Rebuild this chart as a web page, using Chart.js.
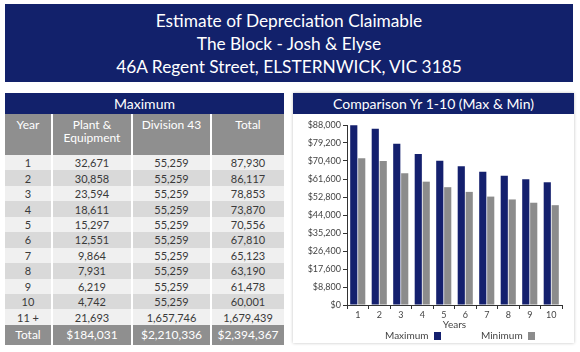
<!DOCTYPE html>
<html lang="en">
<head>
<meta charset="UTF-8">
<title>Estimate of Depreciation Claimable</title>
<script src="https://cdn.jsdelivr.net/npm/chart.js"></script>
<style>
    body {
        margin: 0;
        width: 580px;
        height: 352px;
        background: #fff;
        font-family: "Lato", "DejaVu Sans", sans-serif;
        position: relative;
        overflow: hidden;
    }

    /* Cabecera azul */
    #header {
        position: absolute;
        left: 5px; top: 4px;
        width: 568px; height: 78px;
        background: #12216b;
        color: #fff;
        text-align: center;
        font-size: 17.3px;
        line-height: 23px;
        padding-top: 5px;
        box-sizing: border-box;
    }

    /* Tabla de la izquierda */
    #tablaMax {
        position: absolute;
        left: 5px; top: 93px;
        width: 279px;
        border-collapse: collapse;
        font-size: 11px;
        color: #3a3a3a;
        text-align: center;
    }
    #tablaMax th.titulo {
        background: #12216b;
        color: #fff;
        font-weight: normal;
        font-size: 14px;
        height: 21px;
        padding: 0;
    }
    #tablaMax th.col {
        background: #8f8f8f;
        color: #fff;
        font-weight: normal;
        font-size: 12px;
        line-height: 13px;
        height: 37px;
        vertical-align: top;
        padding: 4px 0 0 0;
        border-left: 2px solid #fff;
    }
    #tablaMax td {
        height: 15.45px;
        padding: 0;
        border-left: 2px solid #fff;
        line-height: 15px;
    }
    #tablaMax tr.par td { background: #f0f0f0; }
    #tablaMax tr.impar td { background: #d9d9d9; }
    #tablaMax tr.total td {
        background: #8f8f8f;
        color: #fff;
        height: 20px;
        font-size: 12px;
    }
    #tablaMax th:first-child, #tablaMax td:first-child { border-left: none; }

    /* Panel del grafico */
    #panel {
        position: absolute;
        left: 293px; top: 93px;
        width: 281px; height: 250px;
        box-shadow: 0 0 3px rgba(0,0,0,0.25);
        background: #fff;
    }
    #panel .titulo {
        height: 21px;
        background: #12216b;
        color: #fff;
        text-align: center;
        font-size: 14px;
        line-height: 21px;
    }
    #graficoBox {
        position: absolute;
        left: 2px; top: 21px;
        width: 278px; height: 228px;
    }
    #leyenda {
        position: absolute;
        top: 236px;
        left: 0; width: 100%;
        font-size: 10px;
        color: #444;
        line-height: 12px;
    }
    #leyenda span.item {
        position: absolute;
    }
    #leyenda span.caja {
        display: inline-block;
        width: 7px; height: 8px;
        margin-left: 5px;
        vertical-align: -1px;
    }
</style>
</head>
<body>

<div id="header">
    Estimate of Depreciation Claimable<br>
    The Block - Josh &amp; Elyse<br>
    46A Regent Street, ELSTERNWICK, VIC 3185
</div>

<table id="tablaMax"></table>

<div id="panel">
    <div class="titulo">Comparison Yr 1-10 (Max &amp; Min)</div>
    <div id="graficoBox"><canvas id="comparacionChart" width="278" height="228"></canvas></div>
    <div id="leyenda"></div>
</div>

<script>
    // Datos de la tabla (Maximum)
    const years = ['1', '2', '3', '4', '5', '6', '7', '8', '9', '10', '11 +'];
    const plantEquipment = [32671, 30858, 23594, 18611, 15297, 12551, 9864, 7931, 6219, 4742, 21693];
    const division43 = [55259, 55259, 55259, 55259, 55259, 55259, 55259, 55259, 55259, 55259, 1657746];
    const totals = [87930, 86117, 78853, 73870, 70556, 67810, 65123, 63190, 61478, 60001, 1679439];
    const grandTotals = [184031, 2210336, 2394367];

    // Datos del grafico (años 1-10)
    const chartYears = ['1', '2', '3', '4', '5', '6', '7', '8', '9', '10'];
    const maximum = [87930, 86117, 78853, 73870, 70556, 67810, 65123, 63190, 61478, 60001];
    const minimum = [71800, 70400, 64400, 60300, 57600, 55300, 53000, 51600, 50000, 48800];
    const yTicks = [0, 8800, 17600, 26400, 35200, 44000, 52800, 61600, 70400, 79200, 88000];

    const navy = '#14206e';
    const gris = '#8c8c8c';

    const fmt = n => n.toLocaleString('en-US');

    // Construir la tabla
    let html = '<tr><th class="titulo" colspan="4">Maximum</th></tr>';
    html += '<tr><th class="col" style="width:46px">Year</th><th class="col" style="width:78px">Plant &amp;<br>Equipment</th>' +
            '<th class="col" style="width:77px">Division 43</th><th class="col">Total</th></tr>';
    years.forEach((y, i) => {
        html += '<tr class="' + (i % 2 === 0 ? 'par' : 'impar') + '"><td>' + y + '</td><td>' + fmt(plantEquipment[i]) +
                '</td><td>' + fmt(division43[i]) + '</td><td>' + fmt(totals[i]) + '</td></tr>';
    });
    html += '<tr class="total"><td>Total</td>' + grandTotals.map(v => '<td>$' + fmt(v) + '</td>').join('') + '</tr>';
    document.getElementById('tablaMax').innerHTML = html;

    // Grafico de barras
    const ctx = document.getElementById('comparacionChart').getContext('2d');
    const comparacionChart = new Chart(ctx, {
        type: 'bar',
        data: {
            labels: chartYears,
            datasets: [
                { label: 'Maximum', data: maximum, backgroundColor: navy },
                { label: 'Minimum', data: minimum, backgroundColor: gris }
            ]
        },
        options: {
            responsive: false,
            animation: false,
            layout: { padding: { top: 11, right: 11, bottom: 11, left: 0 } },
            datasets: { bar: { categoryPercentage: 0.74, barPercentage: 0.9 } },
            plugins: {
                legend: { display: false },
                tooltip: { enabled: false }
            },
            scales: {
                x: {
                    afterFit: s => { s.height = 26; },
                    grid: { offset: true, drawOnChartArea: false, tickLength: 4, color: '#333' },
                    border: { color: '#333' },
                    ticks: { color: '#444', font: { family: 'Lato', size: 9 }, padding: 1 },
                    title: { display: true, text: 'Years', color: '#444', font: { family: 'Lato', size: 10 }, padding: 0 }
                },
                y: {
                    min: 0,
                    max: 88000,
                    afterFit: s => { s.width = 52; },
                    afterBuildTicks: s => { s.ticks = yTicks.map(v => ({ value: v })); },
                    grid: { drawOnChartArea: false, tickLength: 4, color: '#333' },
                    border: { color: '#333' },
                    ticks: {
                        color: '#444',
                        font: { family: 'Lato', size: 9 },
                        padding: 2,
                        callback: v => '$' + fmt(v)
                    }
                }
            }
        }
    });

    // Leyenda: texto y luego la caja de color
    const leyendaPos = [92, 188];
    document.getElementById('leyenda').innerHTML = comparacionChart.data.datasets.map((d, i) =>
        '<span class="item" style="left:' + leyendaPos[i] + 'px">' + d.label +
        '<span class="caja" style="background:' + d.backgroundColor + '"></span></span>'
    ).join('');
</script>

</body>
</html>
